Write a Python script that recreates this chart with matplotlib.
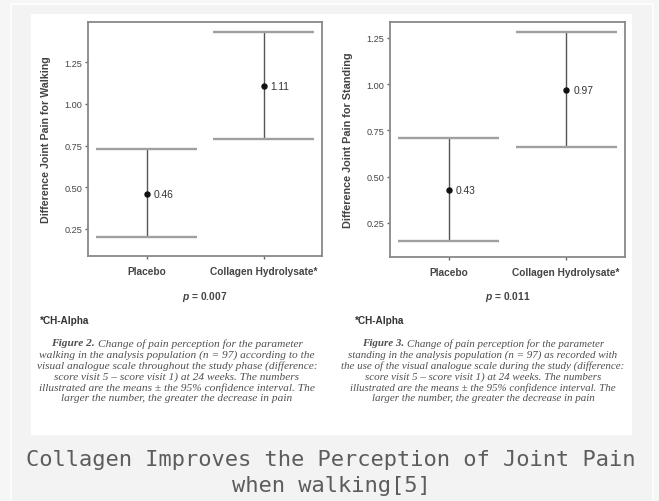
import matplotlib
matplotlib.use("Agg")
import matplotlib.pyplot as plt
from matplotlib.patches import Rectangle

# ---------------- data ----------------
categories = ['Placebo', 'Collagen Hydrolysate*']
walk_mean = [0.46, 1.11]
walk_lo = [0.20, 0.79]
walk_hi = [0.73, 1.43]
stand_mean = [0.43, 0.97]
stand_lo = [0.15, 0.66]
stand_hi = [0.71, 1.28]
yticks = [0.25, 0.50, 0.75, 1.00, 1.25]
p_walk = '0.007'
p_stand = '0.011'
ylabel_walk = 'Difference Joint Pain for Walking'
ylabel_stand = 'Difference Joint Pain for Standing'
caption_walk = ["Change of pain perception for the parameter",
                "walking in the analysis population (n = 97) according to the",
                "visual analogue scale throughout the study phase (difference:",
                "score visit 5 \u2013 score visit 1) at 24 weeks. The numbers",
                "illustrated are the means \u00b1 the 95% confidence interval. The",
                "larger the number, the greater the decrease in pain"]
caption_stand = ["Change of pain perception for the parameter",
                 "standing in the analysis population (n = 97) as recorded with",
                 "the use of the visual analogue scale during the study (difference:",
                 "score visit 5 \u2013 score visit 1) at 24 weeks. The numbers",
                 "illustrated are the means \u00b1 the 95% confidence interval. The",
                 "larger the number, the greater the decrease in pain"]
title_lines = ["Collagen Improves the Perception of Joint Pain", "when walking[5]"]

W, H = 659, 502
fig = plt.figure(figsize=(W / 100, H / 100), dpi=100)
fig.patch.set_facecolor('#f6f6f6')


def fx(x):
    return x / W


def fy(y):
    return 1 - y / H


# frame and white panel
fig.patches.append(Rectangle((fx(10.5), fy(510)), (653 - 10.5) / W, (510 - 4.5) / H,
                             transform=fig.transFigure, facecolor='#f3f3f3',
                             edgecolor='white', lw=1.2, zorder=-3))
fig.patches.append(Rectangle((fx(31), fy(436)), (632 - 31) / W, (436 - 15) / H,
                             transform=fig.transFigure, facecolor='white',
                             edgecolor='none', zorder=-2))

SANS = 'Liberation Sans'
SERIF = 'Liberation Serif'
plt.rcParams['mathtext.fontset'] = 'custom'
plt.rcParams['mathtext.it'] = 'Liberation Sans:italic:bold'
plt.rcParams['mathtext.rm'] = 'Liberation Sans:bold'
CAPFS = 8.2


def panel(x0, x1, y0, y1, ylim, means, los, his, ylabel, ylab_x, ylab_fs, pval, foot_x,
          cap_center, cap_fs, fig_no, caption):
    ax = fig.add_axes([fx(x0), fy(y1), (x1 - x0) / W, (y1 - y0) / H])
    ax.set_facecolor('white')
    pos = list(range(len(categories)))
    for i in pos:
        ax.vlines(i, los[i], his[i], color='#555555', lw=1.0, zorder=2)
        ax.hlines([los[i], his[i]], i - 0.43, i + 0.43, color='#a0a0a0', lw=1.7, zorder=2)
        ax.plot(i, means[i], 'o', color='#111111', ms=3.6, zorder=3)
        ax.annotate(f'{means[i]:.2f}', (i, means[i]), xytext=(5, 0), textcoords='offset points',
                    va='center', ha='left', fontsize=7.4, family=SANS, color='#333333')
    ax.set_xlim(-0.5, 1.5)
    ax.set_ylim(*ylim)
    ax.set_xticks(pos)
    ax.set_xticklabels(categories, fontsize=7.3, family=SANS, fontweight='bold', color='#444444')
    ax.set_yticks(yticks)
    ax.set_yticklabels([f'{t:.2f}' for t in yticks], fontsize=6.6, family=SANS, color='#444444')
    ax.tick_params(axis='both', length=2.5, width=1.0, color='#666666')
    ax.tick_params(axis='x', pad=5)
    ax.tick_params(axis='y', pad=1.5)
    for s in ax.spines.values():
        s.set_color('#888888')
        s.set_linewidth(1.3)
    fig.text(fx(ylab_x), fy((y0 + y1) / 2), ylabel, rotation=90, ha='center', va='center',
             fontsize=ylab_fs, family=SANS, fontweight='bold', color='#444444')
    fig.text(fx((x0 + x1) / 2), fy(296.5), r'$\mathit{p}$ = ' + pval, ha='center', va='center',
             fontsize=7.4, family=SANS, fontweight='bold', color='#444444')
    fig.text(fx(foot_x), fy(321), '*CH-Alpha', ha='left', va='center',
             fontsize=7.2, family=SANS, fontweight='bold', color='#333333')
    # caption
    renderer = fig.canvas.get_renderer()
    ys = [344 + 11 * k for k in range(len(caption))]
    head = fig.text(0, 0, f'Figure {fig_no}. ', fontsize=cap_fs, family=SERIF, style='italic',
                    fontweight='bold', color='#505050', va='center', ha='left')
    rest = fig.text(0, 0, caption[0], fontsize=cap_fs, family=SERIF, style='italic',
                    color='#505050', va='center', ha='left')
    wh = head.get_window_extent(renderer).width
    wr = rest.get_window_extent(renderer).width
    start = cap_center - (wh + wr) / 2
    head.set_position((fx(start), fy(ys[0])))
    rest.set_position((fx(start + wh), fy(ys[0])))
    for k in range(1, len(caption)):
        fig.text(fx(cap_center), fy(ys[k]), caption[k], fontsize=cap_fs, family=SERIF, style='italic',
                 color='#505050', va='center', ha='center')
    return ax


panel(88, 322, 23, 257, (0.088, 1.492), walk_mean, walk_lo, walk_hi, ylabel_walk, 46, 7.7,
      p_walk, 40, 177, 8.2, 2, caption_walk)
panel(390, 625, 23, 258, (0.066, 1.336), stand_mean, stand_lo, stand_hi, ylabel_stand, 348, 7.8,
      p_stand, 355, 483, 7.9, 3, caption_stand)

fig.text(fx(331), fy(466), title_lines[0], ha='center', va='baseline', fontsize=15.8,
         family='DejaVu Sans Mono', color='#5c5c5c')
fig.text(fx(331), fy(492), title_lines[1], ha='center', va='baseline', fontsize=15.8,
         family='DejaVu Sans Mono', color='#5c5c5c')

fig.savefig('out.png', dpi=100, facecolor=fig.get_facecolor())
